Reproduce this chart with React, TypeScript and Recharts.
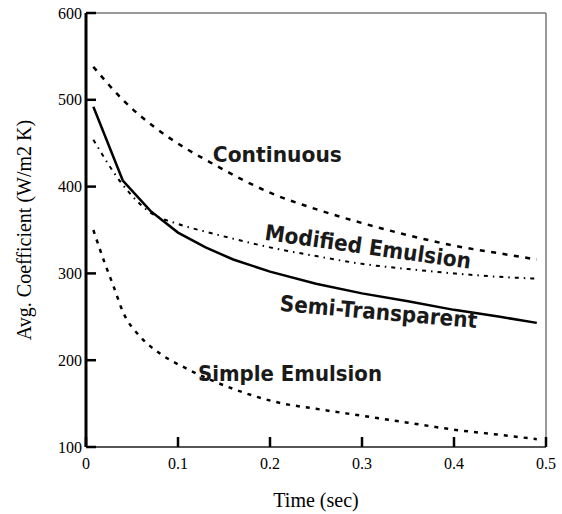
import React from "react";
import { LineChart, Line, XAxis, YAxis, Label, ReferenceDot } from "recharts";

// time (sec) vs avg. coefficient (W/m2 K)
const continuousTime = [0.008, 0.04, 0.075, 0.11, 0.135, 0.17, 0.2, 0.25, 0.3, 0.35, 0.4, 0.45, 0.49];
const continuousCoef = [538, 500, 468, 443, 428, 408, 393, 374, 358, 344, 332, 323, 316];

const modifiedTime = [0.008, 0.04, 0.07, 0.1, 0.13, 0.16, 0.2, 0.25, 0.3, 0.35, 0.4, 0.45, 0.49];
const modifiedCoef = [454, 402, 370, 357, 348, 340, 330, 320, 311, 305, 300, 296, 294];

const semiTime = [0.008, 0.04, 0.07, 0.1, 0.13, 0.16, 0.2, 0.25, 0.3, 0.35, 0.4, 0.45, 0.49];
const semiCoef = [492, 407, 372, 347, 330, 316, 302, 288, 277, 268, 258, 250, 243];

const simpleTime = [0.008, 0.02, 0.03, 0.04, 0.06, 0.08, 0.11, 0.16, 0.21, 0.25, 0.3, 0.35, 0.4, 0.45, 0.49];
const simpleCoef = [350, 313, 285, 256, 226, 208, 190, 167, 151, 144, 136, 128, 120, 114, 109];

const xTicks = [0, 0.1, 0.2, 0.3, 0.4, 0.5];
const yTicks = [100, 200, 300, 400, 500, 600];

// curve names written next to each curve
const curveNames = ["Continuous", "Modified Emulsion", "Semi-Transparent", "Simple Emulsion"];
const nameTime = [0.208, 0.3065, 0.318, 0.2217];
const nameCoef = [438, 331, 256, 185];

const nameAngle = [0, 8, 5, 0];
const nameWidth = [129, 208, 198, 184];

const toPoints = (time: number[], coef: number[]) =>
  time.map((t, i) => ({ t, v: coef[i] }));

const serif = "'Liberation Serif', 'Times New Roman', serif";

// inward tick mark, plus the number on the left and bottom sides
const InTick = ({ x, y, payload, side }: any) => {
  const len = 10;
  const dx = side === "left" ? len : side === "right" ? -len : 0;
  const dy = side === "bottom" ? -len : side === "top" ? len : 0;
  const txt = { fill: "#000", fontSize: 16, fontFamily: serif };
  return (
    <g>
      <line x1={x} y1={y} x2={x + dx} y2={y + dy} stroke="#000" strokeWidth={2.5} />
      {side === "bottom" && (
        <text x={x} y={y + 11} dy="0.71em" textAnchor="middle" style={txt}>
          {payload.value}
        </text>
      )}
      {side === "left" && (
        <text x={x - 4} y={y} dy="0.355em" textAnchor="end" style={txt}>
          {payload.value}
        </text>
      )}
    </g>
  );
};

const App = () => (
  <div style={{ position: "absolute", left: 0, top: 0 }}>
    <LineChart
      width={562}
      height={514}
      margin={{ top: 12, right: 15, bottom: 0, left: 0 }}
    >
      <XAxis
        dataKey="t"
        type="number"
        domain={[0, 0.5]}
        ticks={xTicks}
        interval={0}
        height={67}
        tickSize={0}
        tickMargin={0}
        tickLine={false}
        tick={(p: any) => <InTick {...p} side="bottom" />}
        axisLine={{ stroke: "#555", strokeWidth: 2 }}
      >
        <Label
          value="Time (sec)"
          position="insideBottom"
          offset={7}
          style={{ fill: "#000", fontSize: 20, fontFamily: serif }}
        />
      </XAxis>
      <XAxis
        xAxisId="top"
        orientation="top"
        type="number"
        domain={[0, 0.5]}
        ticks={xTicks}
        interval={0}
        height={1}
        tickSize={0}
        tickMargin={0}
        tickLine={false}
        tick={(p: any) => <InTick {...p} side="top" />}
        axisLine={{ stroke: "#777", strokeWidth: 1.5 }}
      />
      <YAxis
        type="number"
        domain={[100, 600]}
        ticks={yTicks}
        interval={0}
        width={86}
        tickSize={0}
        tickMargin={0}
        tickLine={false}
        tick={(p: any) => <InTick {...p} side="left" />}
        axisLine={{ stroke: "#000", strokeWidth: 3 }}
      >
        <Label
          value="Avg. Coefficient (W/m2 K)"
          angle={-90}
          position="insideLeft"
          offset={24}
          style={{ fill: "#000", fontSize: 20, fontFamily: serif, textAnchor: "middle" }}
        />
      </YAxis>
      <YAxis
        yAxisId="right"
        orientation="right"
        type="number"
        domain={[100, 600]}
        ticks={yTicks}
        interval={0}
        width={1}
        tickSize={0}
        tickMargin={0}
        tickLine={false}
        tick={(p: any) => <InTick {...p} side="right" />}
        axisLine={{ stroke: "#777", strokeWidth: 1.5 }}
      />

      <Line
        data={toPoints(continuousTime, continuousCoef)}
        dataKey="v"
        type="monotone"
        stroke="#000"
        strokeWidth={2.5}
        strokeDasharray="5 6.5"
        dot={false}
        isAnimationActive={false}
      />
      <Line
        data={toPoints(modifiedTime, modifiedCoef)}
        dataKey="v"
        type="monotone"
        stroke="#000"
        strokeWidth={2}
        strokeDasharray="4 5 1.5 5"
        dot={false}
        isAnimationActive={false}
      />
      <Line
        data={toPoints(semiTime, semiCoef)}
        dataKey="v"
        type="linear"
        stroke="#000"
        strokeWidth={2.5}
        dot={false}
        isAnimationActive={false}
      />
      <Line
        data={toPoints(simpleTime, simpleCoef)}
        dataKey="v"
        type="monotone"
        stroke="#000"
        strokeWidth={2.5}
        strokeDasharray="4 6"
        dot={false}
        isAnimationActive={false}
      />

      {curveNames.map((name, i) => (
        <ReferenceDot
          key={name}
          x={nameTime[i]}
          y={nameCoef[i]}
          shape={(p: any) => (
            <text
              x={p.cx}
              y={p.cy}
              dy="0.36em"
              textAnchor="middle"
              transform={`rotate(${nameAngle[i]}, ${p.cx}, ${p.cy})`}
              textLength={nameWidth[i]}
              lengthAdjust="spacingAndGlyphs"
              style={{
                fill: "#1a1a1a",
                fontSize: 22,
                fontWeight: "bold",
                fontFamily: "'DejaVu Sans', sans-serif",
              }}
            >
              {name}
            </text>
          )}
        />
      ))}
    </LineChart>
  </div>
);

export default App;
